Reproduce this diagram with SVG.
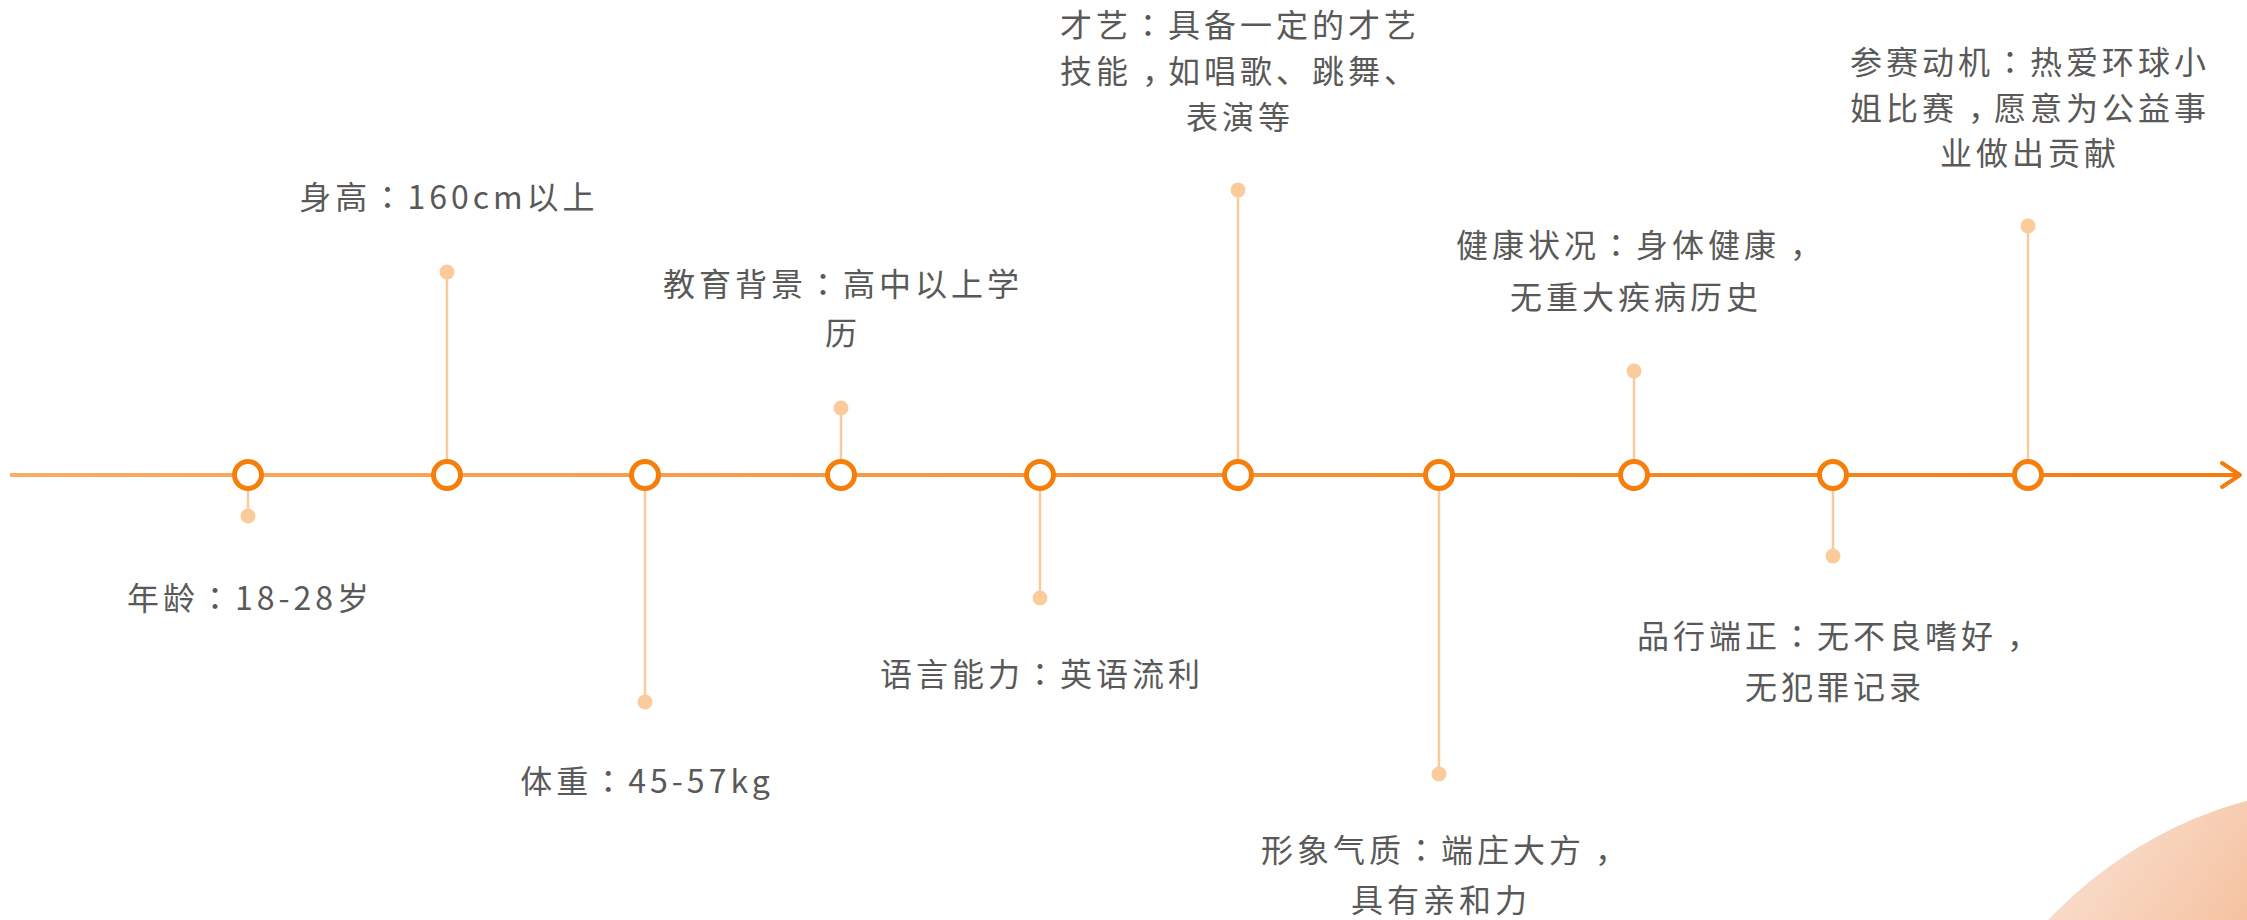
<svg xmlns="http://www.w3.org/2000/svg" width="2247" height="920" viewBox="0 0 2247 920">
<defs>
<linearGradient id="axisGrad" gradientUnits="userSpaceOnUse" x1="10" y1="475" x2="2240" y2="475">
<stop offset="0" stop-color="#F9AC66"/>
<stop offset="1" stop-color="#F47B0E"/>
</linearGradient>
<linearGradient id="blobGrad" gradientUnits="userSpaceOnUse" x1="2060" y1="790" x2="2247" y2="920">
<stop offset="0" stop-color="#FAE4D7"/>
<stop offset="1" stop-color="#F5C2A0"/>
</linearGradient>
<style>
.node-ring{fill:#FFFFFF;stroke:#F57F0A;stroke-width:5}
.stem{stroke:#FCCA9A;stroke-width:2.5;fill:none}
.dot{fill:#FBCB9B}
.lbl{font-family:"Noto Sans CJK SC","Noto Sans",sans-serif;font-size:32px;fill:#595959;letter-spacing:4px;text-anchor:middle}
.cl{font-family:"Noto Sans CJK JP","Noto Sans CJK SC",sans-serif}
.cm{letter-spacing:-6px}
</style>
</defs>
<rect width="2247" height="920" fill="#FFFFFF"/>
<circle cx="2358" cy="1211" r="425" fill="url(#blobGrad)"/>
<g id="connectors">
<line x1="10" y1="475" x2="2238" y2="475" stroke="url(#axisGrad)" stroke-width="4"/>
<polyline points="2222,463 2240,475 2222,487" fill="none" stroke="#F47B0E" stroke-width="4" stroke-linejoin="round" stroke-linecap="round"/>
<line class="stem" x1="248" y1="475" x2="248" y2="516"/>
<line class="stem" x1="447" y1="475" x2="447" y2="272"/>
<line class="stem" x1="645" y1="475" x2="645" y2="702"/>
<line class="stem" x1="841" y1="475" x2="841" y2="408"/>
<line class="stem" x1="1040" y1="475" x2="1040" y2="598"/>
<line class="stem" x1="1238" y1="475" x2="1238" y2="190"/>
<line class="stem" x1="1439" y1="475" x2="1439" y2="774"/>
<line class="stem" x1="1634" y1="475" x2="1634" y2="371"/>
<line class="stem" x1="1833" y1="475" x2="1833" y2="556"/>
<line class="stem" x1="2028" y1="475" x2="2028" y2="226"/>
</g>
<g id="node-age">
<circle class="dot" cx="248" cy="516" r="7.5"/>
<circle class="node-ring" cx="248" cy="475" r="13.5"/>
<text class="lbl" x="250" y="610">年龄<tspan class="cl">：</tspan>18-28岁</text>
</g>
<g id="node-height">
<circle class="dot" cx="447" cy="272" r="7.5"/>
<circle class="node-ring" cx="447" cy="475" r="13.5"/>
<text class="lbl" x="449" y="209">身高<tspan class="cl">：</tspan>160cm以上</text>
</g>
<g id="node-weight">
<circle class="dot" cx="645" cy="702" r="7.5"/>
<circle class="node-ring" cx="645" cy="475" r="13.5"/>
<text class="lbl" x="647" y="793">体重<tspan class="cl">：</tspan>45-57kg</text>
</g>
<g id="node-education">
<circle class="dot" cx="841" cy="408" r="7.5"/>
<circle class="node-ring" cx="841" cy="475" r="13.5"/>
<text class="lbl" x="843" y="296">教育背景<tspan class="cl">：</tspan>高中以上学</text>
<text class="lbl" x="843" y="345">历</text>
</g>
<g id="node-language">
<circle class="dot" cx="1040" cy="598" r="7.5"/>
<circle class="node-ring" cx="1040" cy="475" r="13.5"/>
<text class="lbl" x="1042" y="686">语言能力<tspan class="cl">：</tspan>英语流利</text>
</g>
<g id="node-talent">
<circle class="dot" cx="1238" cy="190" r="7.5"/>
<circle class="node-ring" cx="1238" cy="475" r="13.5"/>
<text class="lbl" x="1240" y="37">才艺<tspan class="cl">：</tspan>具备一定的才艺</text>
<text class="lbl" x="1240" y="83">技能<tspan class="cm" dx="10">，</tspan>如唱歌、跳舞、</text>
<text class="lbl" x="1240" y="129">表演等</text>
</g>
<g id="node-image">
<circle class="dot" cx="1439" cy="774" r="7.5"/>
<circle class="node-ring" cx="1439" cy="475" r="13.5"/>
<text class="lbl" x="1441" y="862">形象气质<tspan class="cl">：</tspan>端庄大方<tspan class="cm" dx="10">，</tspan></text>
<text class="lbl" x="1441" y="912">具有亲和力</text>
</g>
<g id="node-health">
<circle class="dot" cx="1634" cy="371" r="7.5"/>
<circle class="node-ring" cx="1634" cy="475" r="13.5"/>
<text class="lbl" x="1636" y="257">健康状况<tspan class="cl">：</tspan>身体健康<tspan class="cm" dx="10">，</tspan></text>
<text class="lbl" x="1636" y="309">无重大疾病历史</text>
</g>
<g id="node-character">
<circle class="dot" cx="1833" cy="556" r="7.5"/>
<circle class="node-ring" cx="1833" cy="475" r="13.5"/>
<text class="lbl" x="1835" y="648">品行端正<tspan class="cl">：</tspan>无不良嗜好<tspan class="cm" dx="10">，</tspan></text>
<text class="lbl" x="1835" y="699">无犯罪记录</text>
</g>
<g id="node-motivation">
<circle class="dot" cx="2028" cy="226" r="7.5"/>
<circle class="node-ring" cx="2028" cy="475" r="13.5"/>
<text class="lbl" x="2030" y="74">参赛动机<tspan class="cl">：</tspan>热爱环球小</text>
<text class="lbl" x="2030" y="120">姐比赛<tspan class="cm" dx="10">，</tspan>愿意为公益事</text>
<text class="lbl" x="2030" y="165">业做出贡献</text>
</g>
</svg>
